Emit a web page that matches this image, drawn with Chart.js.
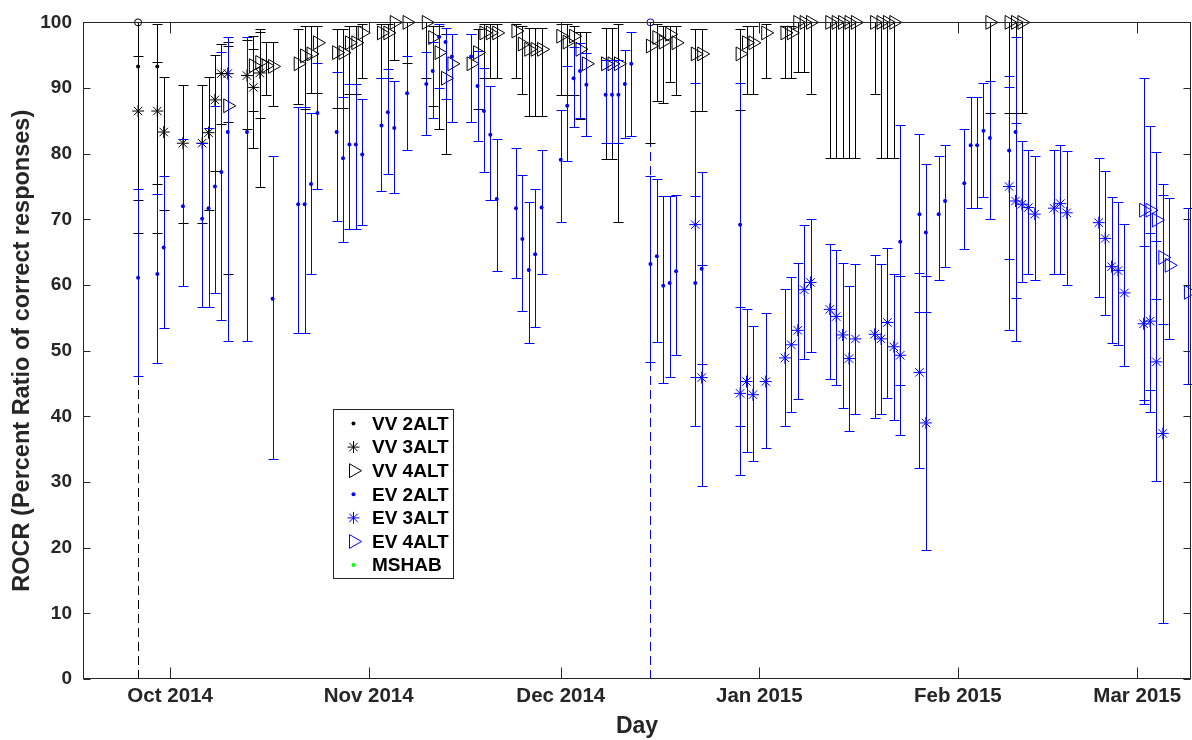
<!DOCTYPE html>
<html>
<head>
<meta charset="utf-8">
<title>ROCR by day</title>
<script src="https://cdn.jsdelivr.net/npm/chart.js"></script>
<style>
html,body{margin:0;padding:0;background:#ffffff;}
#wrap{position:relative;width:1192px;height:740px;}
canvas{display:block;}
</style>
</head>
<body>
<div id="wrap"><canvas id="chart" width="1192" height="740"></canvas></div>
<script>
// ---- x values are days since 1 Oct 2014 ----
const monthTickDays = [0, 31, 61, 92, 123, 151];
const monthTickLabels = ['Oct 2014', 'Nov 2014', 'Dec 2014', 'Jan 2015', 'Feb 2015', 'Mar 2015'];
const seriesNames = ['VV 2ALT', 'VV 3ALT', 'VV 4ALT', 'EV 2ALT', 'EV 3ALT', 'EV 4ALT', 'MSHAB'];
const xAxisTitle = 'Day';
const yAxisTitle = 'ROCR (Percent Ratio of correct responses)';

// VV 2ALT
const vv2Days = [-5, -2];
const vv2Vals = [93.3, 93.3];
const vv2Lo   = [67.9, 68.0];
const vv2Hi   = [100, 99.8];

// VV 3ALT
const vv3Days = [-5, -2, -1, 2, 5, 6, 7, 8, 9, 12, 13, 14];
const vv3Vals = [86.5, 86.5, 83.3, 81.6, 81.6, 83.2, 88.2, 92.2, 92.2, 91.9, 90.1, 92.3];
const vv3Lo   = [73.0, 75.4, 71.4, 69.5, 69.5, 71.4, 77.4, 84.6, 84.9, 83.8, 80.8, 74.9];
const vv3Hi   = [94.9, 94.0, 91.7, 90.4, 90.4, 91.7, 95.1, 96.7, 96.4, 97.3, 96.0, 99.0];

// VV 4ALT
const vv4Days = [9, 13, 14, 15, 16, 20, 21, 22, 23, 26, 27, 28, 29, 30, 33, 34, 35, 37, 40, 41, 42, 43, 44,
  47, 48, 49, 50, 51, 54, 55, 56, 57, 58, 61, 62, 63, 64, 65, 68, 69, 70, 75, 76, 77, 78, 79, 82, 83,
  89, 90, 91, 93, 96, 97, 98, 99, 100, 103, 104, 105, 106, 107, 110, 111, 112, 113, 128, 131, 132, 133];
const vv4Vals = [87.3, 93.4, 93.9, 93.4, 93.3, 93.7, 94.9, 95.2, 96.9, 95.4, 95.4, 96.9, 96.9, 98.4, 98.4, 98.4, 100, 100, 100, 97.7, 95.4, 91.5, 93.7,
  93.7, 95.4, 98.4, 98.4, 98.4, 98.7, 96.7, 95.9, 95.9, 95.9, 97.9, 97.0, 97.9, 95.9, 93.7, 93.7, 93.7, 93.7, 96.4, 97.7, 97.0, 98.2, 96.9, 95.2, 95.2,
  95.2, 96.9, 96.9, 98.4, 98.4, 98.4, 100, 100, 100, 100, 100, 100, 100, 100, 100, 100, 100, 100, 100, 100, 100, 100];
const vv4Lo = [61.7, 86.5, 85.5, 89.0, 87.2, 87.6, 86.8, 89.3, 89.3, 87.0, 87.0, 89.1, 89.1, 91.6, 91.6, 91.6, 94.3, 93.8, 91.5, 87.3, 83.8, 80.0, 84.8,
  84.8, 86.8, 91.6, 91.6, 91.6, 91.6, 89.1, 85.7, 85.7, 85.7, 88.9, 88.9, 88.9, 85.3, 82.7, 79.2, 79.2, 69.6, 81.6, 88.0, 87.7, 90.9, 89.0, 86.5, 86.5,
  86.7, 89.1, 89.1, 91.6, 91.6, 91.6, 92.5, 92.5, 89.1, 79.4, 79.4, 79.4, 79.4, 79.4, 89.1, 79.4, 79.4, 79.4, 86.2, 86.2, 86.2, 86.2];
const vv4Hi = [97.0, 98.0, 98.5, 97.0, 97.0, 99.0, 99.5, 99.5, 99.5, 99.0, 99.0, 99.5, 99.5, 99.7, 99.7, 99.7, 100, 100, 100, 99.5, 99.5, 98.2, 98.2,
  98.2, 99.0, 99.7, 99.7, 99.7, 99.7, 99.5, 99.2, 99.2, 99.2, 99.8, 99.8, 99.5, 98.6, 98.6, 99.2, 99.2, 99.8, 100, 99.8, 99.5, 99.5, 99.5, 99.0, 99.0,
  99.0, 99.4, 99.4, 99.8, 99.5, 99.5, 100, 100, 100, 100, 100, 100, 100, 100, 100, 100, 100, 100, 100, 100, 100, 100];

// EV 2ALT
const ev2Days = [-5, -2, -1, 2, 5, 6, 7, 8, 9, 12, 16, 20, 21, 22, 23, 26, 27, 28, 29, 30, 33, 34, 35, 37, 40, 41, 42, 43, 44,
  47, 48, 49, 50, 51, 54, 55, 56, 57, 58, 61, 62, 63, 64, 65, 68, 69, 70, 71, 72, 75, 76, 77, 78, 79, 82, 83, 89,
  114, 117, 118, 120, 121, 124, 125, 126, 127, 128, 131, 132];
const ev2Vals = [61.1, 61.7, 65.7, 72.0, 70.1, 71.7, 75.0, 77.2, 83.3, 83.3, 57.9, 72.3, 72.3, 75.4, 86.2, 83.3, 79.3, 81.4, 81.4, 79.9, 84.3, 86.3, 83.9, 89.2, 90.6, 92.6, 97.8, 97.0, 94.8,
  94.8, 90.3, 86.5, 82.9, 73.1, 71.7, 67.0, 62.3, 64.7, 71.8, 79.1, 87.3, 91.5, 92.6, 90.5, 89.0, 89.0, 89.0, 90.6, 93.7, 63.2, 64.4, 59.9, 60.3, 62.1, 60.3, 62.5, 69.2,
  66.6, 70.8, 68.0, 70.8, 72.8, 75.5, 81.3, 81.3, 83.5, 82.4, 80.5, 83.3];
const ev2Lo = [46.2, 48.2, 53.4, 59.8, 56.6, 56.6, 58.8, 54.6, 51.5, 51.5, 33.5, 52.7, 52.7, 61.7, 74.6, 69.7, 66.6, 68.5, 68.5, 69.1, 74.3, 76.9, 74.0, 80.6, 82.9, 85.5, 90.0, 88.3, 84.8,
  84.8, 81.9, 77.2, 72.9, 62.2, 61.0, 56.0, 51.2, 53.6, 61.7, 69.6, 78.9, 84.0, 85.4, 82.7, 81.6, 81.6, 81.6, 82.4, 82.7, 48.3, 51.3, 45.1, 46.0, 49.3, 46.0, 48.0, 38.5,
  37.2, 55.9, 55.9, 60.7, 62.8, 65.5, 71.7, 71.7, 73.4, 70.0, 63.9, 58.1];
const ev2Hi = [74.7, 73.9, 76.6, 82.2, 81.7, 83.9, 87.2, 95.5, 97.8, 97.8, 79.7, 87.1, 87.1, 86.2, 93.8, 92.4, 88.7, 90.6, 90.6, 88.3, 91.6, 92.9, 91.1, 94.9, 95.5, 97.0, 99.8, 99.2, 98.2,
  98.2, 95.7, 93.1, 90.3, 82.3, 80.9, 76.8, 72.6, 74.7, 80.5, 86.7, 93.3, 96.3, 96.9, 95.4, 94.2, 94.2, 94.2, 95.8, 98.6, 76.6, 76.2, 73.6, 73.6, 73.7, 73.5, 77.2, 90.8,
  84.3, 83.0, 78.5, 79.6, 81.4, 83.7, 88.6, 88.6, 90.8, 91.1, 90.1, 97.8];

// EV 3ALT
const ev3Days = [82, 83, 89, 90, 91, 93, 96, 97, 98, 99, 100, 103, 104, 105, 106, 107, 110, 111, 112, 113,
  114, 117, 118, 131, 132, 133, 134, 135, 138, 139, 140, 145, 146, 147, 148, 149, 152, 153, 154, 155];
const ev3Vals = [69.2, 45.9, 43.5, 45.3, 43.3, 45.3, 48.9, 50.9, 53.1, 59.3, 60.4, 56.3, 55.2, 52.4, 48.8, 51.8, 52.5, 51.8, 54.3, 50.6,
  49.3, 46.7, 39.0, 75.0, 72.8, 72.3, 71.8, 70.8, 71.7, 72.4, 71.0, 69.5, 67.1, 62.8, 62.2, 58.8, 54.1, 54.5, 48.3, 37.4];
const ev3Lo = [38.5, 29.4, 31.0, 34.5, 33.2, 35.2, 38.5, 40.6, 42.6, 48.8, 49.8, 45.7, 44.7, 41.2, 37.8, 40.3, 39.7, 40.3, 42.8, 39.4,
  44.7, 32.1, 19.7, 53.2, 51.5, 60.4, 61.7, 60.7, 61.7, 61.7, 60.0, 58.2, 55.4, 51.1, 50.8, 47.6, 42.5, 44.0, 30.1, 8.5];
const ev3Hi = [90.8, 63.0, 56.7, 56.4, 53.7, 55.8, 59.4, 61.3, 63.3, 69.2, 70.1, 66.3, 65.3, 63.3, 59.9, 63.2, 64.5, 63.2, 65.6, 61.7,
  61.4, 61.8, 61.4, 91.8, 84.7, 82.0, 80.5, 79.6, 80.5, 81.4, 80.4, 79.4, 77.3, 73.4, 72.6, 69.3, 65.9, 68.0, 66.7, 73.7];

// EV 4ALT
const ev4Days = [152, 153, 154, 155, 156, 159];
const ev4Vals = [71.4, 71.4, 69.9, 64.2, 63.0, 58.9];
const ev4Lo   = [41.9, 40.6, 57.9, 54.0, 51.8, 45.0];
const ev4Hi   = [91.6, 84.2, 80.3, 75.4, 73.3, 71.8];

// MSHAB (no visible points)
const mshabDays = [];
const mshabVals = [];

// Reference markers (circle at 100 with dashed line down to 0)
const refDays = [-5, 75];
const refVals = [100, 100];
const refLo   = [0, 0];

// ---- styling ----
const BLACK = '#000000';
const BLUE = '#0000ff';
const GREEN = '#00ff00';
const AXIS = '#262626';
const FONT = "'Liberation Sans', Arial, Helvetica, sans-serif";

function pts(days, vals) { return days.map((d, i) => ({ x: d, y: vals[i] })); }

function series(name, days, vals, lo, hi, color, style, radius, order) {
  const hollow = style === 'triangle';
  return {
    label: name,
    data: pts(days, vals),
    errLo: lo, errHi: hi, barColor: color,
    inLegend: true,
    pointStyle: style,
    pointRadius: radius,
    pointHoverRadius: radius,
    pointRotation: style === 'triangle' ? 90 : 0,
    pointBorderWidth: style === 'circle' ? 0 : 1,
    borderColor: color,
    backgroundColor: hollow ? 'rgba(0,0,0,0)' : color,
    showLine: false,
    clip: false,
    order: order
  };
}

const datasets = [
  series(seriesNames[0], vv2Days, vv2Vals, vv2Lo, vv2Hi, BLACK, 'circle', 2, 7),
  series(seriesNames[1], vv3Days, vv3Vals, vv3Lo, vv3Hi, BLACK, 'star', 6, 6),
  series(seriesNames[2], vv4Days, vv4Vals, vv4Lo, vv4Hi, BLACK, 'triangle', 8, 5),
  series(seriesNames[3], ev2Days, ev2Vals, ev2Lo, ev2Hi, BLUE, 'circle', 2, 4),
  series(seriesNames[4], ev3Days, ev3Vals, ev3Lo, ev3Hi, BLUE, 'star', 6, 3),
  series(seriesNames[5], ev4Days, ev4Vals, ev4Lo, ev4Hi, BLUE, 'triangle', 8, 2),
  series(seriesNames[6], mshabDays, mshabVals, [], [], GREEN, 'circle', 2, 1),
  {
    label: 'reference',
    data: pts(refDays, refVals),
    refLo: refLo,
    inLegend: false,
    pointStyle: 'circle',
    pointRadius: 3.5,
    pointBorderWidth: 1,
    borderColor: [BLACK, BLUE],
    backgroundColor: 'rgba(0,0,0,0)',
    showLine: false,
    clip: false,
    order: 8
  }
];

const errorBarPlugin = {
  id: 'errorBars',
  beforeDatasetsDraw(chart) {
    const { ctx, scales: { x, y } } = chart;
    chart.data.datasets.forEach(ds => {
      if (!ds.refLo) return;
      ctx.save();
      ctx.lineWidth = 1;
      ctx.setLineDash([9, 5]);
      ds.data.forEach((p, i) => {
        const col = Array.isArray(ds.borderColor) ? ds.borderColor[i] : ds.borderColor;
        const px = Math.round(x.getPixelForValue(p.x)) + 0.5;
        ctx.strokeStyle = col;
        ctx.beginPath();
        ctx.moveTo(px, y.getPixelForValue(ds.refLo[i]));
        ctx.lineTo(px, y.getPixelForValue(p.y));
        ctx.stroke();
      });
      ctx.restore();
    });
  },
  beforeDatasetDraw(chart, args) {
    const ds = chart.data.datasets[args.index];
    if (!ds.errLo || !ds.data.length) return;
    const { ctx, scales: { x, y } } = chart;
    const cap = 5;
    ctx.save();
    ctx.strokeStyle = ds.barColor;
    ctx.lineWidth = 1;
    ctx.beginPath();
    ds.data.forEach((p, i) => {
      const px = Math.round(x.getPixelForValue(p.x)) + 0.5;
      const yl = Math.round(y.getPixelForValue(ds.errLo[i])) + 0.5;
      const yh = Math.round(y.getPixelForValue(ds.errHi[i])) + 0.5;
      ctx.moveTo(px, yl); ctx.lineTo(px, yh);
      ctx.moveTo(px - cap, yl); ctx.lineTo(px + cap, yl);
      ctx.moveTo(px - cap, yh); ctx.lineTo(px + cap, yh);
    });
    ctx.stroke();
    ctx.restore();
  }
};

const axesBoxPlugin = {
  id: 'axesBox',
  afterDatasetsDraw(chart) {
    const { ctx, chartArea: a, scales: { x, y } } = chart;
    const L = Math.round(a.left) + 0.5, R = Math.round(a.right) - 0.5;
    const T = Math.round(a.top) + 0.5, B = Math.round(a.bottom) - 0.5;
    ctx.save();
    ctx.strokeStyle = AXIS;
    ctx.lineWidth = 1;
    ctx.strokeRect(L, T, R - L, B - T);
    ctx.beginPath();
    x.ticks.forEach(t => {
      const px = Math.round(x.getPixelForValue(t.value)) + 0.5;
      ctx.moveTo(px, B); ctx.lineTo(px, B - 11);
      ctx.moveTo(px, T); ctx.lineTo(px, T + 11);
    });
    y.ticks.forEach(t => {
      const py = Math.round(y.getPixelForValue(t.value)) + 0.5;
      ctx.moveTo(L, py); ctx.lineTo(L + 7, py);
      ctx.moveTo(R, py); ctx.lineTo(R - 7, py);
    });
    ctx.stroke();
    ctx.restore();
  }
};

function drawSymbol(ctx, style, color, cx, cy, r) {
  ctx.save();
  ctx.strokeStyle = color; ctx.fillStyle = color; ctx.lineWidth = 1;
  ctx.beginPath();
  if (style === 'circle') {
    ctx.arc(cx, cy, r, 0, Math.PI * 2); ctx.fill();
  } else if (style === 'star') {
    const d = r * Math.SQRT1_2;
    ctx.moveTo(cx - r, cy); ctx.lineTo(cx + r, cy);
    ctx.moveTo(cx, cy - r); ctx.lineTo(cx, cy + r);
    ctx.moveTo(cx - d, cy - d); ctx.lineTo(cx + d, cy + d);
    ctx.moveTo(cx - d, cy + d); ctx.lineTo(cx + d, cy - d);
    ctx.stroke();
  } else if (style === 'triangle') {
    ctx.moveTo(cx + r, cy);
    ctx.lineTo(cx - r / 2, cy - r * 0.866);
    ctx.lineTo(cx - r / 2, cy + r * 0.866);
    ctx.closePath(); ctx.stroke();
  }
  ctx.restore();
}

const boxLegendPlugin = {
  id: 'boxLegend',
  afterDraw(chart) {
    const { ctx } = chart;
    const box = { left: 333.5, top: 409.5, width: 120, height: 169 };
    const symX = 353.5, textX = 372, row0 = 423.5, step = 23.6;
    ctx.save();
    ctx.fillStyle = '#ffffff';
    ctx.fillRect(box.left, box.top, box.width, box.height);
    ctx.strokeStyle = AXIS; ctx.lineWidth = 1;
    ctx.strokeRect(box.left, box.top, box.width, box.height);
    const items = chart.data.datasets.filter(d => d.inLegend);
    items.forEach((ds, i) => {
      const cy = row0 + i * step;
      drawSymbol(ctx, ds.pointStyle, ds.barColor, symX, cy, ds.pointRadius);
      ctx.fillStyle = '#000000';
      ctx.font = "bold 19px " + FONT;
      ctx.textAlign = 'left'; ctx.textBaseline = 'middle';
      ctx.fillText(ds.label, textX, cy + 1);
    });
    ctx.restore();
  }
};

new Chart(document.getElementById('chart'), {
  type: 'scatter',
  data: { datasets: datasets },
  options: {
    responsive: false,
    animation: false,
    devicePixelRatio: 1,
    layout: { autoPadding: false, padding: { top: 20, right: 1, left: 0, bottom: 0 } },
    plugins: { legend: { display: false }, tooltip: { enabled: false } },
    scales: {
      x: {
        type: 'linear',
        min: -13.6, max: 159.4,
        afterBuildTicks: (s) => { s.ticks = monthTickDays.map(v => ({ value: v })); },
        afterFit: (s) => { s.height = 61; s.paddingLeft = 0; s.paddingRight = 0; },
        grid: { display: false, drawTicks: false },
        border: { display: false },
        ticks: {
          autoSkip: false, maxRotation: 0, padding: 5, color: AXIS,
          font: { family: FONT, size: 20.5, weight: 'bold' },
          callback: (v, i) => monthTickLabels[i]
        },
        title: { display: true, text: xAxisTitle, color: AXIS, padding: { top: 0, bottom: 0 },
          font: { family: FONT, size: 23, weight: 'bold' } }
      },
      y: {
        min: 0, max: 100,
        afterFit: (s) => { s.width = 83; },
        grid: { display: false, drawTicks: false },
        border: { display: false },
        ticks: { stepSize: 10, padding: 11, color: AXIS,
          font: { family: FONT, size: 19, weight: 'bold' } },
        title: { display: true, text: yAxisTitle, color: AXIS, padding: { top: 8, bottom: 0 },
          font: { family: FONT, size: 23.5, weight: 'bold' } }
      }
    }
  },
  plugins: [errorBarPlugin, axesBoxPlugin, boxLegendPlugin]
});
</script>
</body>
</html>
